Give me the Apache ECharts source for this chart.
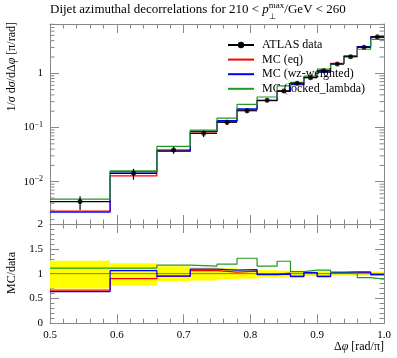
<!DOCTYPE html>
<html><head><meta charset="utf-8">
<script src="https://cdn.jsdelivr.net/npm/echarts@6/dist/echarts.min.js"></script>
<style>html,body{margin:0;padding:0;background:#fff}#c{width:397px;height:358px}</style>
</head><body><div id="c"></div>
<script>
// ---- data ----
const binEdges = [0.5,0.59,0.66,0.71,0.75,0.78,0.81,0.84,0.86,0.88,0.90,0.92,0.94,0.96,0.98,1.0];
const dataValues = [0.0043,0.0143,0.0385,0.078,0.125,0.204,0.318,0.471,0.654,0.829,1.117,1.484,2.02,3.02,4.73];
const dataErrUp = [0.26,0.21,0.15,0.13,0.11,0.09,0.07,0.06,0.06,0.05,0.05,0.04,0.04,0.04,0.04];   // relative
const dataErrDown = [0.30,0.24,0.15,0.14,0.11,0.10,0.08,0.07,0.05,0.05,0.05,0.04,0.04,0.04,0.04]; // relative
const mcEq = [0.00288,0.01287,0.03658,0.08268,0.1288,0.2142,0.3148,0.4757,0.6213,0.8456,1.061,1.5285,2.081,3.111,4.635];
const mcWz = [0.00275,0.01516,0.03658,0.08502,0.1338,0.2203,0.3116,0.4663,0.6148,0.8456,1.050,1.514,2.081,3.111,4.635];
const mcLocked = [0.00477,0.01587,0.04505,0.0897,0.1488,0.2672,0.3657,0.5888,0.6802,0.887,1.195,1.499,2.040,2.778,4.210];
const seriesNames = ['ATLAS data','MC (eq)','MC (wz-weighted)','MC (locked_lambda)'];
const xTickLabels = ['0.5','0.6','0.7','0.8','0.9','1.0'];

const FONT = 'Liberation Serif';
const AX = '#888';
const RED = '#ff0000', BLUE = '#0000ff', GREEN = '#229922';
const yMin = 0.00166, yMax = 8.12;

function stepPts(vals){ const p=[]; for(let i=0;i<vals.length;i++){p.push([binEdges[i],vals[i]]);p.push([binEdges[i+1],vals[i]]);} return p; }
function ratio(vals){ return vals.map((v,i)=>v/dataValues[i]); }

function xAx(grid,pos,labels){
  return {type:'value',gridIndex:grid,position:pos,min:0.5,max:1.0,interval:0.1,
    axisLine:{show:true,onZero:false,lineStyle:{color:AX,width:1}},
    axisTick:{show:true,inside:true,length:9,lineStyle:{color:AX}},
    minorTick:{show:true,splitNumber:5,length:4.5,lineStyle:{color:AX}},
    splitLine:{show:false},
    axisLabel:{show:labels,margin:6,color:'#000',fontFamily:FONT,fontSize:11,
      formatter:v=>{const i=Math.round((v-0.5)/0.1);return xTickLabels[i]||'';}}};
}
function logAx(pos,labels){
  return {type:'log',gridIndex:0,position:pos,min:yMin,max:yMax,logBase:10,
    axisLine:{show:true,onZero:false,lineStyle:{color:AX,width:1}},
    axisTick:{show:true,inside:true,length:9,lineStyle:{color:AX}},
    splitLine:{show:false},
    axisLabel:{show:labels,margin:7,color:'#000',showMinLabel:false,showMaxLabel:false,
      formatter:v=>{const l=Math.log10(v),e=Math.round(l); if(Math.abs(l-e)>1e-6) return ''; if(e===0) return '{b|1}'; return '{b|10}{s|\u2212'+(-e)+'}';},
      rich:{b:{fontFamily:FONT,fontSize:11,lineHeight:14,color:'#000'},s:{fontFamily:FONT,fontSize:8,lineHeight:8,verticalAlign:'top',color:'#000'}}}};
}
function ratAx(pos,labels){
  return {type:'value',gridIndex:1,position:pos,min:0,max:2,interval:0.5,
    axisLine:{show:true,onZero:false,lineStyle:{color:AX,width:1}},
    axisTick:{show:true,inside:true,length:9,lineStyle:{color:AX}},
    minorTick:{show:true,splitNumber:5,length:4.5,lineStyle:{color:AX}},
    splitLine:{show:false},
    axisLabel:{show:labels,margin:7,color:'#000',fontFamily:FONT,fontSize:11}};
}

// minor ticks of the log axis (2..9 x 10^k)
const logMinor=[]; for(let k=-3;k<=0;k++){for(let m=2;m<=9;m++){const v=m*Math.pow(10,k); if(v>yMin&&v<yMax) logMinor.push([v]);}}

const chart = echarts.init(document.getElementById('c'),null,{renderer:'canvas'});

const mainLine=(name,vals,color)=>({name,type:'line',xAxisIndex:0,yAxisIndex:0,data:stepPts(vals),symbol:'none',showSymbol:false,
  lineStyle:{color,width:1.2},itemStyle:{color},animation:false,z:3});
const ratLine=(name,vals,color)=>({name:name+' r',type:'line',xAxisIndex:2,yAxisIndex:2,data:stepPts(ratio(vals)),symbol:'none',
  lineStyle:{color,width:1.2},itemStyle:{color},animation:false,z:3});

// title pieces measured so that the subscript sits under the superscript
const TS=13;
const ctx=document.createElement('canvas').getContext('2d');
const titleA='Dijet azimuthal decorrelations for 210 < ';
ctx.font=TS+'px "'+FONT+'"'; const wA=ctx.measureText(titleA).width;
ctx.font='italic '+TS+'px "'+FONT+'"'; const wP=ctx.measureText('p').width;

const option={
  animation:false,
  grid:[{left:50,right:13,top:24,height:200},{left:50,right:13,top:224,height:99.3}],
  xAxis:[xAx(0,'bottom',false),xAx(0,'top',false),xAx(1,'bottom',true),xAx(1,'top',false)],
  yAxis:[logAx('left',true),logAx('right',false),ratAx('left',true),ratAx('right',false)],
  legend:{orient:'vertical',left:227,top:39,padding:0,itemWidth:26,itemHeight:8,itemGap:2.6,
    textStyle:{fontFamily:FONT,fontSize:12,color:'#000',padding:[0,0,0,3]},
    data:seriesNames.map((n,i)=>i===0?{name:n}:{name:n,itemStyle:{opacity:0}})},
  graphic:[
    {type:'text',left:50,top:1,style:{text:'{a|'+titleA+'}{i|p}{s|max}{a|/GeV < 260}',
      rich:{a:{fontFamily:FONT,fontSize:TS,lineHeight:17,fill:'#000'},i:{fontFamily:FONT,fontStyle:'italic',fontSize:TS,lineHeight:17},
            s:{fontFamily:FONT,fontSize:9,lineHeight:9,verticalAlign:'top'}}}},
    {type:'text',x:50+wA+wP,y:12.5,style:{text:'\u22a5',font:'8px "'+FONT+'"',fill:'#000',verticalAlign:'top'}},
    {type:'text',x:12,y:22,rotation:Math.PI/2,style:{text:'1/{i|σ} d{i|σ}/dΔ{i|φ} [π/rad]',align:'right',verticalAlign:'middle',
      font:'12px "'+FONT+'"',fill:'#000',rich:{i:{fontFamily:FONT,fontStyle:'italic',fontSize:12}}}},
    {type:'text',x:12,y:273,rotation:Math.PI/2,style:{text:'MC/data',align:'center',verticalAlign:'middle',font:'12px "'+FONT+'"',fill:'#000'}},
    {type:'text',x:384,y:347,style:{text:'Δ{i|φ} [rad/π]',align:'right',verticalAlign:'middle',font:'12px "'+FONT+'"',fill:'#000',
      rich:{i:{fontFamily:FONT,fontStyle:'italic',fontSize:12}}}}
  ],
  series:[
    // log-axis minor ticks
    {type:'custom',xAxisIndex:0,yAxisIndex:0,data:logMinor,silent:true,z:5,
      renderItem:(p,api)=>{const a=api.coord([0.5,api.value(0)]),b=api.coord([1.0,api.value(0)]);
        return {type:'group',children:[
          {type:'line',shape:{x1:a[0],y1:a[1],x2:a[0]+4.5,y2:a[1]},style:{stroke:AX,lineWidth:1}},
          {type:'line',shape:{x1:b[0],y1:b[1],x2:b[0]-4.5,y2:b[1]},style:{stroke:AX,lineWidth:1}}]};}},
    mainLine('MC (eq)',mcEq,RED),
    mainLine('MC (wz-weighted)',mcWz,BLUE),
    mainLine('MC (locked_lambda)',mcLocked,GREEN),
    // legend entry for data
    {name:'ATLAS data',type:'line',xAxisIndex:0,yAxisIndex:0,data:[],symbol:'circle',symbolSize:5,
      lineStyle:{color:'#000',width:1.2},itemStyle:{color:'#000'}},
    // data error bars
    {type:'custom',xAxisIndex:0,yAxisIndex:0,z:6,silent:true,
      data:dataValues.map((v,i)=>[(binEdges[i]+binEdges[i+1])/2,v,v*(1-dataErrDown[i]),v*(1+dataErrUp[i]),binEdges[i],binEdges[i+1]]),
      renderItem:(p,api)=>{const lo=api.coord([api.value(0),api.value(2)]),hi=api.coord([api.value(0),api.value(3)]);
        const a=api.coord([api.value(4),api.value(1)]),b=api.coord([api.value(5),api.value(1)]);
        return {type:'group',children:[
          {type:'line',shape:{x1:lo[0],y1:lo[1],x2:hi[0],y2:hi[1]},style:{stroke:'#000',lineWidth:1.2}},
          {type:'line',shape:{x1:a[0],y1:a[1],x2:b[0],y2:b[1]},style:{stroke:'#000',lineWidth:1.2}}]};}},
    {name:'data pts',type:'scatter',xAxisIndex:0,yAxisIndex:0,z:7,symbol:'circle',symbolSize:5,itemStyle:{color:'#000'},
      data:dataValues.map((v,i)=>[(binEdges[i]+binEdges[i+1])/2,v])},
    // ratio band
    {type:'custom',xAxisIndex:2,yAxisIndex:2,z:1,silent:true,
      data:dataValues.map((v,i)=>[binEdges[i],binEdges[i+1],1-dataErrDown[i],1+dataErrUp[i]]),
      renderItem:(p,api)=>{const a=api.coord([api.value(0),api.value(3)]),b=api.coord([api.value(1),api.value(2)]);
        return {type:'rect',shape:{x:a[0],y:a[1],width:b[0]-a[0],height:b[1]-a[1]},style:{fill:'#ffff00'}};}},
    {name:'one',type:'line',xAxisIndex:2,yAxisIndex:2,z:2,symbol:'none',data:[[0.5,1],[1.0,1]],lineStyle:{color:'#777',width:1}},
    ratLine('MC (eq)',mcEq,RED),
    ratLine('MC (wz-weighted)',mcWz,BLUE),
    ratLine('MC (locked_lambda)',mcLocked,GREEN)
  ]
};
chart.setOption(option);
</script></body></html>
